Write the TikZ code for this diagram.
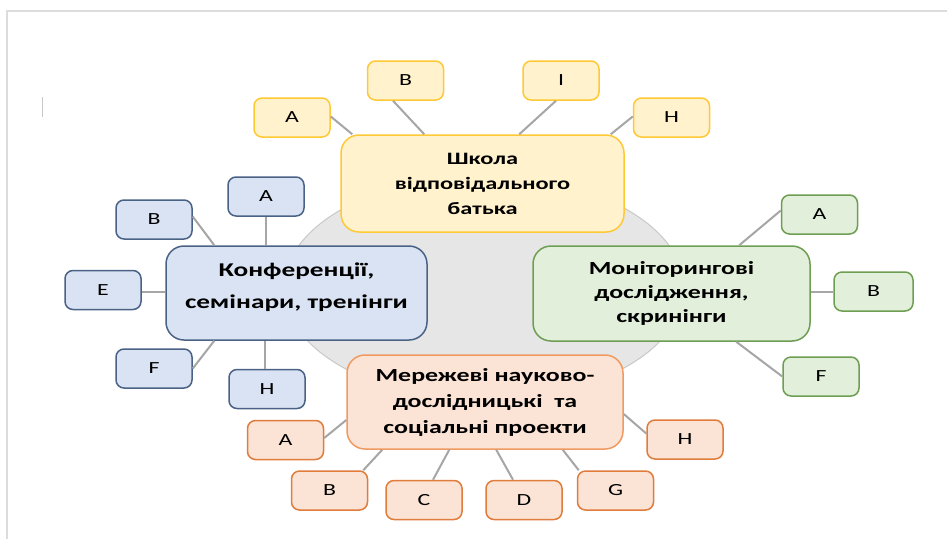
\documentclass[tikz,border=0pt]{standalone}
\usepackage{fontspec}
\newfontfamily\boxfont{Carlito}[FakeStretch=1.4]
\definecolor{ylwfill}{HTML}{FFF2CC}
\definecolor{ylwline}{HTML}{FFC935}
\definecolor{blufill}{HTML}{DAE3F3}
\definecolor{bluline}{HTML}{4A6285}
\definecolor{grnfill}{HTML}{E2EFDA}
\definecolor{grnline}{HTML}{6E9E52}
\definecolor{orgfill}{HTML}{FBE4D5}
\definecolor{orgline}{HTML}{F19A60}
\definecolor{orgsmall}{HTML}{E07C3C}
\definecolor{conncol}{HTML}{A6A6A6}
\definecolor{ringfill}{HTML}{E6E6E6}
\definecolor{ringline}{HTML}{C8C8C8}
\definecolor{framecol}{HTML}{DCDCDC}
\tikzset{
  mainbox/.style={draw, line width=1.5pt, rounded corners=18pt, align=center, inner sep=0pt},
  leafbox/.style={draw, line width=1.5pt, rounded corners=8pt, minimum width=76pt, minimum height=39pt, inner sep=0pt, font=\boxfont\fontsize{17}{20}\selectfont},
  ylw/.style={fill=ylwfill, draw=ylwline},
  blu/.style={fill=blufill, draw=bluline},
  grn/.style={fill=grnfill, draw=grnline},
  org/.style={fill=orgfill, draw=orgline},
  orgleaf/.style={fill=orgfill, draw=orgsmall},
  conn/.style={draw=conncol, line width=2pt},
}
\begin{document}
\begin{tikzpicture}[x=1pt,y=-1pt]
\useasboundingbox (0,0) rectangle (947,539);
\fill[white] (0,0) rectangle (947,539);
% page frame
\draw[framecol, line width=1.5pt] (7,539) -- (7,11) -- (947,11);
\draw[ringline, line width=1pt] (42,97) -- (42,117);
% background ring
\draw[fill=ringfill, draw=ringline, line width=1pt] (484,288) ellipse [x radius=200pt, y radius=112pt];

% main boxes
\node[mainbox, ylw, minimum width=283pt, minimum height=97pt,
  font=\boxfont\bfseries\fontsize{17.4}{25}\selectfont] (Y) at (482.5,183.5)
  {Школа\\відповідального\\батька};
\node[mainbox, blu, minimum width=261pt, minimum height=94pt,
  font=\boxfont\bfseries\fontsize{19.5}{32}\selectfont] (K) at (296.5,293)
  {Конференції,\\семінари, тренінги\\[-17pt]\mbox{}};
\node[mainbox, grn, minimum width=277pt, minimum height=95pt,
  font=\boxfont\bfseries\fontsize{18.5}{24}\selectfont] (M) at (671.5,293.5)
  {Моніторингові\\дослідження,\\скринінги};
\node[mainbox, org, minimum width=276pt, minimum height=94pt,
  font=\boxfont\bfseries\fontsize{18.5}{26}\selectfont] (N) at (485,402)
  {Мережеві науково-\\дослідницькі\ \ та\\соціальні проекти};

% yellow leaves
\node[leafbox, ylw] (YA) at (292,117.5) {A};
\node[leafbox, ylw] (YB) at (405.5,80.5) {B};
\node[leafbox, ylw] (YI) at (561,80.5) {I};
\node[leafbox, ylw] (YH) at (671.5,117.5) {H};
% blue leaves
\node[leafbox, blu] (KA) at (266,196.5) {A};
\node[leafbox, blu] (KB) at (154,219.5) {B};
\node[leafbox, blu] (KE) at (103,290) {E};
\node[leafbox, blu] (KF) at (154,368.5) {F};
\node[leafbox, blu] (KH) at (267,389) {H};
% green leaves
\node[leafbox, grn] (MA) at (819.5,214.5) {A};
\node[leafbox, grn, minimum width=79pt] (MB) at (873.5,291.5) {B};
\node[leafbox, grn] (MF) at (821,376.5) {F};
% orange leaves
\node[leafbox, orgleaf] (NA) at (285.5,440) {A};
\node[leafbox, orgleaf] (NB) at (329.5,490.5) {B};
\node[leafbox, orgleaf] (NC) at (424,500) {C};
\node[leafbox, orgleaf] (ND) at (524,500) {D};
\node[leafbox, orgleaf] (NG) at (615.5,490.5) {G};
\node[leafbox, orgleaf] (NH) at (685,439.5) {H};

% connectors
\draw[conn] ([yshift=1pt]YA.east) -- ([xshift=12pt]Y.north west);
\draw[conn] ([xshift=-12.5pt]YB.south) -- ([xshift=84pt]Y.north west);
\draw[conn] ([xshift=-5pt]YI.south) -- ([xshift=179pt]Y.north west);
\draw[conn] ([yshift=1pt]YH.west) -- ([xshift=-14pt]Y.north east);
\draw[conn] (KA.south) -- (KA.south |- K.north);
\draw[conn] ([yshift=3pt]KB.east) -- ([xshift=49pt]K.north west);
\draw[conn] ([yshift=-2pt]KE.east) -- ([yshift=-2pt]KE.east -| K.west);
\draw[conn] (KF.east) -- ([xshift=49pt]K.south west);
\draw[conn] ([xshift=-2pt]KH.north) -- ([xshift=-2pt]KH.north |- K.south);
\draw[conn] ([yshift=4pt]MA.west) -- ([xshift=207pt]M.north west);
\draw[conn] (MB.west) -- (MB.west -| M.east);
\draw[conn] (MF.west) -- ([xshift=204pt]M.south west);
\draw[conn] ([yshift=2pt]NA.east) -- ([yshift=-18pt]N.west);
\draw[conn] ([xshift=-5pt]NB.north east) -- ([xshift=36pt]N.south west);
\draw[conn] ([xshift=9pt]NC.north) -- ([xshift=103pt]N.south west);
\draw[conn] ([xshift=-11pt]ND.north) -- ([xshift=150pt]N.south west);
\draw[conn] ([xshift=2pt]NG.north west) -- ([xshift=-61pt]N.south east);
\draw[conn] ([yshift=6pt]NH.west) -- ([yshift=-12pt]N.east);
\end{tikzpicture}
\end{document}
